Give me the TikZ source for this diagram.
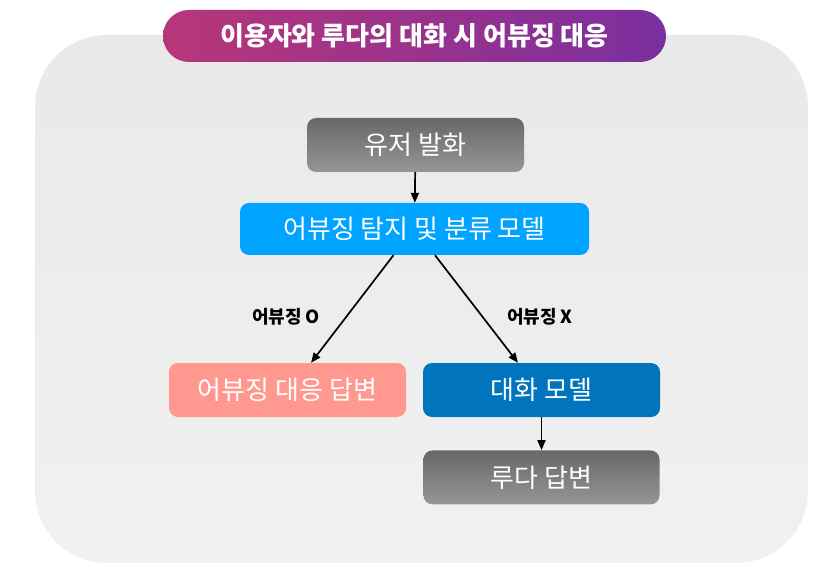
\documentclass[tikz,border=0pt]{standalone}
\usepackage{fontspec}
\usepackage{tikz}
\usetikzlibrary{arrows.meta,positioning}
\newfontfamily\krfont{Noto Sans CJK KR}
\definecolor{panel}{RGB}{233,233,233}
\definecolor{panellow}{RGB}{241,241,241}
\definecolor{titlel}{RGB}{184,54,120}
\definecolor{titler}{RGB}{122,47,160}
\definecolor{greytop}{RGB}{104,104,104}
\definecolor{greybot}{RGB}{150,150,150}
\definecolor{skyblue}{RGB}{0,163,255}
\definecolor{deepblue}{RGB}{0,116,188}
\definecolor{salmon}{RGB}{255,152,142}

\begin{document}
\begin{tikzpicture}[
  x=1pt, y=-1pt, font=\krfont,
  box/.style={rounded corners=9pt, minimum width=237pt, minimum height=54pt,
    text=white, font=\krfont\fontsize{26}{30}\selectfont, inner sep=0pt},
  greybox/.style={box, top color=greytop, bottom color=greybot},
  lab/.style={font=\krfont\bfseries\fontsize{18}{21}\selectfont, text=black},
  arr/.style={-{Triangle[length=10pt, width=8pt]}, line width=1.7pt, black},
]
\useasboundingbox (0,0) rectangle (822,577);
% panel and title
\shade[rounded corners=72pt, top color=panel, bottom color=panellow]
  (35,35) rectangle (808,563);
\node[rounded corners=26pt, left color=titlel, right color=titler,
  minimum width=503pt, minimum height=52pt, text=white, inner sep=0pt,
  font=\krfont\bfseries\fontsize{26}{30}\selectfont] (title) at (414.5,36) {이용자와 루다의 대화 시 어뷰징 대응};
% flow
\node[greybox, minimum width=217pt] (user) at (415.5,145) {유저 발화};
\node[box, fill=skyblue, minimum width=349pt, minimum height=52pt] (detect) at (414.5,229) {어뷰징 탐지 및 분류 모델};
\node[box, fill=salmon] (abuse) at (287.5,390) {어뷰징 대응 답변};
\node[box, fill=deepblue] (chat) at (541.5,390) {대화 모델};
\node[greybox, minimum width=236pt, below=33pt of chat] (reply) {루다 답변};
\node[lab] (labo) at (286,317) {어뷰징 O};
\node[lab] (labx) at (540,317) {어뷰징 X};
\draw[arr] (user) -- (detect);
\draw[arr] ([xshift=-21pt]detect.south) -- ([xshift=23.5pt]abuse.north);
\draw[arr] ([xshift=20.5pt]detect.south) -- ([xshift=-23.5pt]chat.north);
\draw[arr] (chat) -- (reply);
\end{tikzpicture}
\end{document}
